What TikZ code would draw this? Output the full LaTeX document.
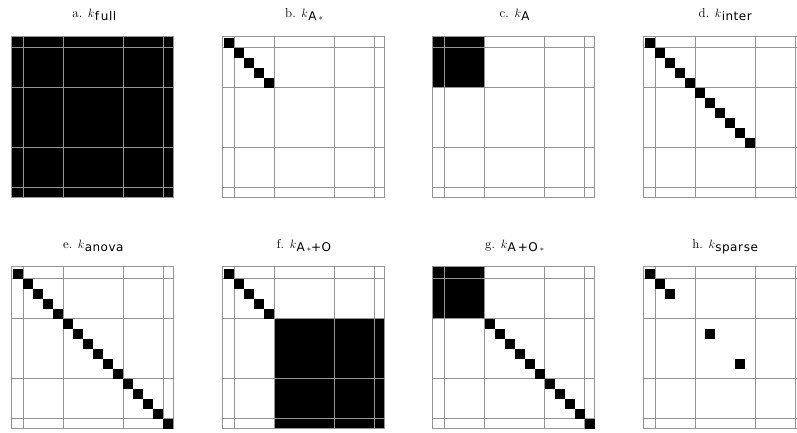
\documentclass[tikz,border=0pt]{standalone}
\usepackage{fontspec}
\newfontfamily\subfontfam{DejaVu Sans}[LetterSpace=4]
\newcommand\ksub[1]{$k$\kern0.3pt\raisebox{-2.6pt}{\fontsize{12}{14}\subfontfam #1}}
\newcommand\smallstar{\,$\scriptstyle\ast$}
\tikzset{
  gridline/.style={draw=black!42, line width=0.9pt},
  blockfill/.style={fill=black},
  paneltitle/.style={font=\fontsize{13}{15}\selectfont, anchor=base, inner sep=0pt},
}
% grid of one panel, cell (0,0) top-left corner at (#1,#2), 16x16 cells of 10pt
\newcommand\panelgrid[2]{%
  \draw[gridline] (#1-1.7,#2-1.7) rectangle (#1+160,#2+160);
  \foreach \c in {1,5,11,15} {
    \draw[gridline] (#1+10*\c,#2-1.7) -- (#1+10*\c,#2+160);
    \draw[gridline] (#1-1.7,#2+10*\c) -- (#1+160,#2+10*\c);
  }%
}
\newcommand\paneldiag[3]{%
  \foreach \i in {#3} {\fill[blockfill] (#1+10*\i,#2+10*\i) rectangle ++(10,10);}%
}
\begin{document}
\begin{tikzpicture}[x=1pt,y=-1pt]
  \clip (0,0) rectangle (797,432);
  \def\ra{37.7}\def\rb{268.5}
  \def\ca{13.3}\def\cb{224}\def\cc{434.6}\def\cd{645.2}
  \def\ta{17.6}\def\tb{248.4}
  % titles
  \node[paneltitle] (ta) at (\ca+81,\ta) {a. \ksub{f\kern2pt ull}};
  \node[paneltitle] (tb) at (\cb+80,\ta) {b. \ksub{A\smallstar}};
  \node[paneltitle] (tc) at (\cc+80,\ta) {c. \ksub{A}};
  \node[paneltitle] (td) at (\cd+80,\ta) {d. \ksub{inter}};
  \node[paneltitle] (te) at (\ca+80,\tb) {e. \ksub{anova}};
  \node[paneltitle] (tf) at (\cb+80,\tb) {f. \ksub{A\smallstar+O}};
  \node[paneltitle] (tg) at (\cc+80,\tb) {g. \ksub{A\,+O\smallstar}};
  \node[paneltitle] (th) at (\cd+80,\tb) {h. \ksub{spar\kern1pt se}};
  % a. full
  \fill[blockfill] (\ca-1.7,\ra-1.7) rectangle (\ca+160,\ra+160);
  \panelgrid{\ca}{\ra}
  % b. A*
  \panelgrid{\cb}{\ra}
  \paneldiag{\cb}{\ra}{0,...,4}
  % c. A
  \fill[blockfill] (\cc-1.7,\ra-1.7) rectangle (\cc+50,\ra+50);
  \panelgrid{\cc}{\ra}
  % d. inter
  \panelgrid{\cd}{\ra}
  \paneldiag{\cd}{\ra}{0,...,10}
  % e. anova
  \panelgrid{\ca}{\rb}
  \paneldiag{\ca}{\rb}{0,...,15}
  % f. A*+O
  \fill[blockfill] (\cb+50,\rb+50) rectangle (\cb+160,\rb+160);
  \panelgrid{\cb}{\rb}
  \paneldiag{\cb}{\rb}{0,...,4}
  % g. A+O*
  \fill[blockfill] (\cc-1.7,\rb-1.7) rectangle (\cc+50,\rb+50);
  \panelgrid{\cc}{\rb}
  \paneldiag{\cc}{\rb}{5,...,15}
  % h. sparse
  \panelgrid{\cd}{\rb}
  \paneldiag{\cd}{\rb}{0,1,2,6,9}
\end{tikzpicture}
\end{document}
